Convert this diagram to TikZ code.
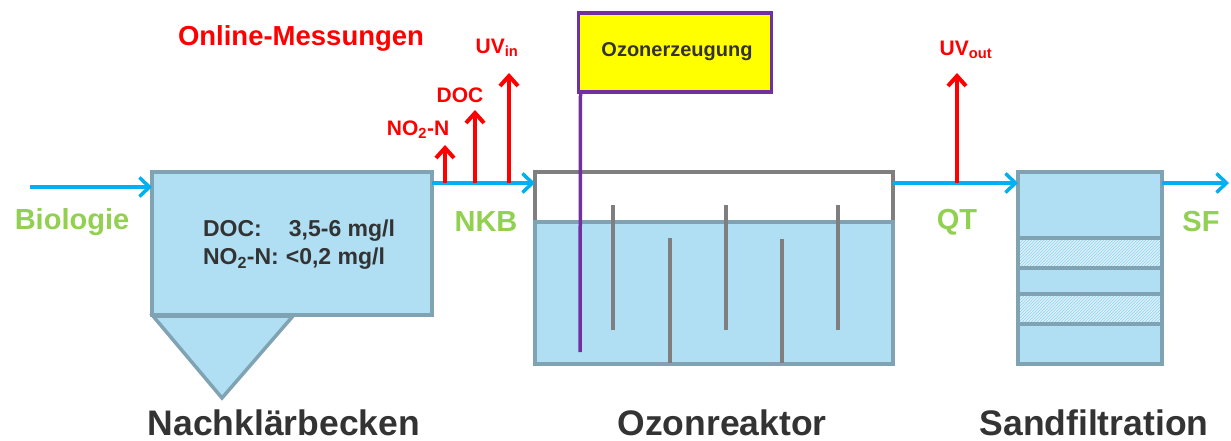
\documentclass[tikz,border=0pt]{standalone}
\usepackage{fontspec}
\setmainfont{Liberation Sans}
\usetikzlibrary{arrows.meta,patterns}
\definecolor{wblue}{RGB}{176,222,242}
\definecolor{wedge}{RGB}{127,163,178}
\definecolor{flowc}{RGB}{0,176,240}
\definecolor{lgreen}{RGB}{146,208,80}
\definecolor{mred}{RGB}{255,0,0}
\definecolor{opurple}{RGB}{112,48,160}
\definecolor{oyellow}{RGB}{255,255,0}
\definecolor{dtext}{RGB}{51,51,51}
\definecolor{wall}{RGB}{127,127,127}
\definecolor{hatchbg}{RGB}{222,240,249}
\tikzset{
  tank/.style={draw=wedge,fill=wblue,line width=3.5pt,inner sep=0pt,outer sep=0pt},
  flow/.style={draw=flowc,line width=3.5pt,-{Straight Barb[length=10pt,width=19pt,line width=3.5pt]}},
  meas/.style={draw=mred,line width=4pt,-{Straight Barb[length=10pt,width=18pt,line width=4pt]}},
  glabel/.style={text=lgreen,font=\bfseries\fontsize{29}{34}\selectfont,inner sep=0pt},
  rlabel/.style={text=mred,font=\bfseries\fontsize{21}{25}\selectfont,inner sep=0pt},
  title/.style={text=dtext,font=\bfseries\fontsize{35.5}{40}\selectfont,inner sep=0pt,text depth=0pt,anchor=base},
  baffle/.style={draw=wall,line width=3.5pt},
  band/.style={draw=wedge,line width=3.5pt},
}
\begin{document}
\begin{tikzpicture}[x=1pt,y=-1pt]
\useasboundingbox (0,0) rectangle (1231,441);
% Nachklärbecken
\node[tank,minimum width=280pt,minimum height=143pt] (nkb) at (292,243.5) {};
\path[tank] (153,316) -- (293,316) -- (222,398) -- cycle;
\node[text=dtext,font=\bfseries\fontsize{23}{28}\selectfont,inner sep=0pt,align=left] (nkbtext) at (299,245)
  {\begin{tabular}{@{}l@{\hspace{7pt}}l@{}}DOC: & \hspace{3pt}3,5-6 mg/l\\[0pt] NO\textsubscript{2}-N: & <0,2 mg/l\end{tabular}};
% Ozonreaktor
\node[draw=wall,fill=white,line width=3.5pt,inner sep=0pt,outer sep=0pt,minimum width=358pt,minimum height=192pt] (reactor) at (714,268) {};
\node[tank,minimum width=358pt,minimum height=142pt] (water) at (714,293) {};
\draw[baffle] (613,205) -- (613,330);
\draw[baffle] (726,205) -- (726,330);
\draw[baffle] (838,205) -- (838,330);
\draw[baffle] (670,238) -- (670,363);
\draw[baffle] (782,239) -- (782,363);
\node[draw=opurple,fill=oyellow,line width=3.5pt,inner sep=0pt,outer sep=0pt,minimum width=193pt,minimum height=79pt] (ozon) at (675,52.5) {};
\node[text=dtext,font=\bfseries\fontsize{20}{24}\selectfont,inner sep=0pt] (ozontext) at (677,52) {Ozonerzeugung};
\coordinate (lance) at (580,352);
\draw[draw=opurple,line width=3.5pt] ([xshift=2pt]ozon.south west) -- (lance);
% Sandfiltration
\node[tank,minimum width=144pt,minimum height=192pt] (filter) at (1090,268) {};
\fill[hatchbg] (1019.5,239.5) rectangle (1160.5,266.5);
\fill[hatchbg] (1019.5,295.5) rectangle (1160.5,322.5);
\fill[pattern=north east lines,pattern color=wblue!80!flowc] (1019.5,239.5) rectangle (1160.5,266.5);
\fill[pattern=north east lines,pattern color=wblue!80!flowc] (1019.5,295.5) rectangle (1160.5,322.5);
\draw[band] (filter.west |- 0,238) -- (filter.east |- 0,238);
\draw[band] (filter.west |- 0,268) -- (filter.east |- 0,268);
\draw[band] (filter.west |- 0,294) -- (filter.east |- 0,294);
\draw[band] (filter.west |- 0,324) -- (filter.east |- 0,324);
\node[tank,fill=none,minimum width=144pt,minimum height=192pt] (filterframe) at (1090,268) {};
% flows
\coordinate (bio) at (30,187);
\draw[flow] (bio) -- (bio -| nkb.west);
\draw[flow] ([yshift=-11pt]nkb.north east) -- ([yshift=-11pt]reactor.north west);
\draw[flow] ([yshift=-11pt]reactor.north east) -- ([yshift=-11pt]filter.north west);
\coordinate (sfout) at (1229,183);
\draw[flow] ([yshift=-11pt]filter.north east) -- (sfout);
% measurements
\coordinate (m1) at (445,183); \coordinate (t1) at (445,145);
\coordinate (m2) at (475,183); \coordinate (t2) at (475,110);
\coordinate (m3) at (509,183); \coordinate (t3) at (509,73);
\coordinate (m4) at (957,183); \coordinate (t4) at (957,73);
\draw[meas] (m1) -- (t1);
\draw[meas] (m2) -- (t2);
\draw[meas] (m3) -- (t3);
\draw[meas] (m4) -- (t4);
\node[rlabel] (no2lab) at (418,130) {NO\textsubscript{2}-N};
\node[rlabel] (doclab) at (460,95) {DOC};
\node[rlabel] (uvin) at (497,48) {UV\textsubscript{in}};
\node[rlabel] (uvout) at (966,50) {UV\textsubscript{out}};
\node[text=mred,font=\bfseries\fontsize{27.5}{32}\selectfont,inner sep=0pt] (online) at (301,38) {Online-Messungen};
% labels
\node[glabel] (biol) at (72,222) {Biologie};
\node[glabel] (nkbl) at (486,222) {NKB};
\node[glabel] (qtl) at (957,222) {QT};
\node[glabel] (sfl) at (1201,222) {SF};
\node[title] (t1l) at (284,435) {Nachklärbecken};
\node[title] (t2l) at (722,435) {Ozonreaktor};
\node[title] (t3l) at (1094,435) {Sandfiltration};
\end{tikzpicture}
\end{document}
